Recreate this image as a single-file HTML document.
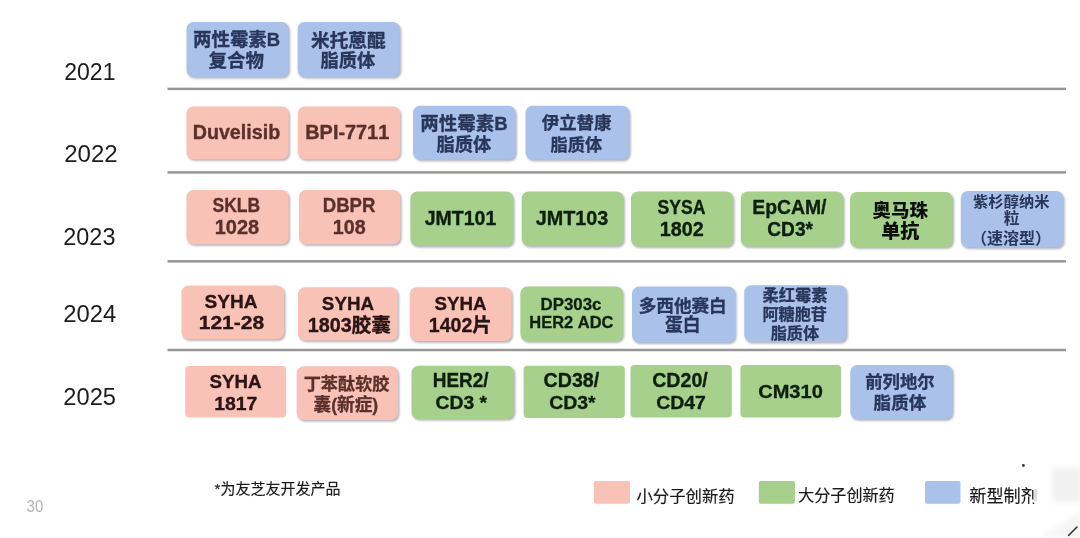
<!DOCTYPE html>
<html lang="zh"><head><meta charset="utf-8"><title>Pipeline 2021-2025</title>
<style>
html,body{margin:0;padding:0;background:#fff;}
body{width:1080px;height:538px;overflow:hidden;font-family:"Liberation Sans","Noto Sans CJK SC",sans-serif;}
svg{display:block;}
text{font-family:"Liberation Sans","Noto Sans CJK SC",sans-serif;font-kerning:none;white-space:pre;}
text.b{font-weight:700;}
text.n{font-weight:400;}
</style></head><body>
<svg width="1080" height="538" viewBox="0 0 1080 538" style="filter:blur(0.45px)">
<defs><filter id="sh" x="-10%" y="-10%" width="120%" height="130%"><feGaussianBlur stdDeviation="0.9"/></filter><filter id="wm" x="-30%" y="-30%" width="160%" height="160%"><feGaussianBlur stdDeviation="3"/></filter></defs>
<rect x="167.5" y="87.65" width="898.5" height="2.5" fill="#979797"/>
<rect x="167.5" y="171.15" width="898.5" height="2.5" fill="#979797"/>
<rect x="167.5" y="260.05" width="898.5" height="2.5" fill="#979797"/>
<rect x="167.5" y="348.75" width="898.5" height="2.5" fill="#979797"/>
<rect x="187.80" y="23.60" width="102.20" height="54.90" rx="7" fill="#5f6070" fill-opacity=".5" filter="url(#sh)"/>
<rect x="298.90" y="23.60" width="102.30" height="54.90" rx="7" fill="#5f6070" fill-opacity=".5" filter="url(#sh)"/>
<rect x="187.80" y="108.00" width="102.20" height="52.80" rx="7" fill="#5f6070" fill-opacity=".5" filter="url(#sh)"/>
<rect x="299.10" y="108.00" width="102.20" height="52.80" rx="7" fill="#5f6070" fill-opacity=".5" filter="url(#sh)"/>
<rect x="414.30" y="107.40" width="102.50" height="53.90" rx="7" fill="#5f6070" fill-opacity=".5" filter="url(#sh)"/>
<rect x="526.90" y="107.40" width="103.70" height="53.90" rx="7" fill="#5f6070" fill-opacity=".5" filter="url(#sh)"/>
<rect x="187.80" y="191.60" width="102.20" height="54.20" rx="7" fill="#5f6070" fill-opacity=".5" filter="url(#sh)"/>
<rect x="300.30" y="191.60" width="101.20" height="54.20" rx="7" fill="#5f6070" fill-opacity=".5" filter="url(#sh)"/>
<rect x="411.70" y="193.10" width="102.80" height="54.50" rx="7" fill="#5f6070" fill-opacity=".5" filter="url(#sh)"/>
<rect x="523.00" y="193.10" width="101.80" height="54.50" rx="7" fill="#5f6070" fill-opacity=".5" filter="url(#sh)"/>
<rect x="632.30" y="193.10" width="102.20" height="55.00" rx="7" fill="#5f6070" fill-opacity=".5" filter="url(#sh)"/>
<rect x="742.10" y="193.10" width="102.40" height="55.00" rx="7" fill="#5f6070" fill-opacity=".5" filter="url(#sh)"/>
<rect x="851.30" y="193.60" width="102.70" height="55.10" rx="7" fill="#5f6070" fill-opacity=".5" filter="url(#sh)"/>
<rect x="962.10" y="192.60" width="102.50" height="56.50" rx="7" fill="#5f6070" fill-opacity=".5" filter="url(#sh)"/>
<rect x="182.80" y="287.20" width="102.60" height="53.60" rx="7" fill="#5f6070" fill-opacity=".5" filter="url(#sh)"/>
<rect x="299.30" y="288.80" width="99.70" height="53.30" rx="7" fill="#5f6070" fill-opacity=".5" filter="url(#sh)"/>
<rect x="411.10" y="288.80" width="101.90" height="53.90" rx="7" fill="#5f6070" fill-opacity=".5" filter="url(#sh)"/>
<rect x="521.70" y="288.00" width="102.50" height="54.70" rx="7" fill="#5f6070" fill-opacity=".5" filter="url(#sh)"/>
<rect x="633.30" y="288.20" width="103.20" height="55.90" rx="7" fill="#5f6070" fill-opacity=".5" filter="url(#sh)"/>
<rect x="745.60" y="286.80" width="102.20" height="56.70" rx="7" fill="#5f6070" fill-opacity=".5" filter="url(#sh)"/>
<rect x="298.00" y="367.90" width="101.30" height="53.60" rx="7" fill="#5f6070" fill-opacity=".5" filter="url(#sh)"/>
<rect x="412.80" y="367.30" width="102.50" height="53.20" rx="7" fill="#5f6070" fill-opacity=".5" filter="url(#sh)"/>
<rect x="851.60" y="366.60" width="102.20" height="54.10" rx="7" fill="#5f6070" fill-opacity=".5" filter="url(#sh)"/>
<rect x="186.50" y="22.00" width="102.20" height="54.90" rx="7" fill="#aac1ea"/>
<rect x="297.60" y="22.00" width="102.30" height="54.90" rx="7" fill="#aac1ea"/>
<rect x="186.50" y="106.40" width="102.20" height="52.80" rx="7" fill="#f8c2b6"/>
<rect x="297.80" y="106.40" width="102.20" height="52.80" rx="7" fill="#f8c2b6"/>
<rect x="413.00" y="105.80" width="102.50" height="53.90" rx="7" fill="#aac1ea"/>
<rect x="525.60" y="105.80" width="103.70" height="53.90" rx="7" fill="#aac1ea"/>
<rect x="186.50" y="190.00" width="102.20" height="54.20" rx="7" fill="#f8c2b6"/>
<rect x="299.00" y="190.00" width="101.20" height="54.20" rx="7" fill="#f8c2b6"/>
<rect x="410.40" y="191.50" width="102.80" height="54.50" rx="7" fill="#a8d08d"/>
<rect x="521.70" y="191.50" width="101.80" height="54.50" rx="7" fill="#a8d08d"/>
<rect x="631.00" y="191.50" width="102.20" height="55.00" rx="7" fill="#a8d08d"/>
<rect x="740.80" y="191.50" width="102.40" height="55.00" rx="7" fill="#a8d08d"/>
<rect x="850.00" y="192.00" width="102.70" height="55.10" rx="7" fill="#a8d08d"/>
<rect x="960.80" y="191.00" width="102.50" height="56.50" rx="7" fill="#aac1ea"/>
<rect x="181.50" y="285.60" width="102.60" height="53.60" rx="7" fill="#f8c2b6"/>
<rect x="298.00" y="287.20" width="99.70" height="53.30" rx="7" fill="#f8c2b6"/>
<rect x="409.80" y="287.20" width="101.90" height="53.90" rx="7" fill="#f8c2b6"/>
<rect x="520.40" y="286.40" width="102.50" height="54.70" rx="7" fill="#a8d08d"/>
<rect x="632.00" y="286.60" width="103.20" height="55.90" rx="7" fill="#aac1ea"/>
<rect x="744.30" y="285.20" width="102.20" height="56.70" rx="7" fill="#aac1ea"/>
<rect x="185.20" y="366.00" width="101.00" height="51.50" rx="4" fill="#f8c2b6"/>
<rect x="296.70" y="366.30" width="101.30" height="53.60" rx="7" fill="#f8c2b6"/>
<rect x="411.50" y="365.70" width="102.50" height="53.20" rx="7" fill="#a8d08d"/>
<rect x="523.60" y="365.70" width="101.20" height="52.30" rx="4" fill="#a8d08d"/>
<rect x="630.40" y="365.00" width="101.40" height="52.50" rx="4" fill="#a8d08d"/>
<rect x="740.40" y="365.00" width="100.80" height="52.50" rx="4" fill="#a8d08d"/>
<rect x="850.30" y="365.00" width="102.20" height="54.10" rx="7" fill="#aac1ea"/>
<g role="img" aria-label="两性霉素B" transform="matrix(0.9243 0 0 0.9243 192.95 46.32)" fill="#28365a" stroke="#28365a" stroke-linejoin="round"><text class="b" x="0.00" y="0" font-size="20.00" stroke-width="0.35">两性霉素B</text></g>
<g role="img" aria-label="复合物" transform="matrix(0.9228 0 0 0.9228 208.56 67.25)" fill="#28365a" stroke="#28365a" stroke-linejoin="round"><text class="b" x="0.00" y="0" font-size="20.00" stroke-width="0.35">复合物</text></g>
<g role="img" aria-label="米托蒽醌" transform="matrix(0.9308 0 0 0.9308 311.05 46.66)" fill="#28365a" stroke="#28365a" stroke-linejoin="round"><text class="b" x="0.00" y="0" font-size="20.00" stroke-width="0.35">米托蒽醌</text></g>
<g role="img" aria-label="脂质体" transform="matrix(0.9103 0 0 0.9103 320.60 67.45)" fill="#28365a" stroke="#28365a" stroke-linejoin="round"><text class="b" x="0.00" y="0" font-size="20.00" stroke-width="0.35">脂质体</text></g>
<g role="img" aria-label="Duvelisib" transform="matrix(0.9843 0 0 0.9739 192.68 139.00)" fill="#5b302b" stroke="#5b302b" stroke-linejoin="round"><text class="b" x="0.00" y="0" font-size="20.00" stroke-width="0.35">Duvelisib</text></g>
<g role="img" aria-label="BPI-7711" transform="matrix(0.9940 0 0 0.9739 305.27 139.00)" fill="#5b302b" stroke="#5b302b" stroke-linejoin="round"><text class="b" x="0.00" y="0" font-size="20.00" stroke-width="0.35">BPI-7711</text></g>
<g role="img" aria-label="两性霉素B" transform="matrix(0.9265 0 0 0.9265 420.14 129.64)" fill="#28365a" stroke="#28365a" stroke-linejoin="round"><text class="b" x="0.00" y="0" font-size="20.00" stroke-width="0.35">两性霉素B</text></g>
<g role="img" aria-label="脂质体" transform="matrix(0.9103 0 0 0.9103 436.60 150.95)" fill="#28365a" stroke="#28365a" stroke-linejoin="round"><text class="b" x="0.00" y="0" font-size="20.00" stroke-width="0.35">脂质体</text></g>
<g role="img" aria-label="伊立替康" transform="matrix(0.8714 0 0 0.8714 541.79 129.48)" fill="#28365a" stroke="#28365a" stroke-linejoin="round"><text class="b" x="0.00" y="0" font-size="20.00" stroke-width="0.35">伊立替康</text></g>
<g role="img" aria-label="脂质体" transform="matrix(0.8597 0 0 0.8597 550.62 150.57)" fill="#28365a" stroke="#28365a" stroke-linejoin="round"><text class="b" x="0.00" y="0" font-size="20.00" stroke-width="0.35">脂质体</text></g>
<g role="img" aria-label="SKLB" transform="matrix(0.8761 0 0 0.9884 212.50 212.00)" fill="#5b302b" stroke="#5b302b" stroke-linejoin="round"><text class="b" x="0.00" y="0" font-size="20.00" stroke-width="0.35">SKLB</text></g>
<g role="img" aria-label="1028" transform="matrix(0.9996 0 0 0.9884 214.74 233.60)" fill="#5b302b" stroke="#5b302b" stroke-linejoin="round"><text class="b" x="0.00" y="0" font-size="20.00" stroke-width="0.35">1028</text></g>
<g role="img" aria-label="DBPR" transform="matrix(0.9286 0 0 0.9884 322.76 212.00)" fill="#5b302b" stroke="#5b302b" stroke-linejoin="round"><text class="b" x="0.00" y="0" font-size="20.00" stroke-width="0.35">DBPR</text></g>
<g role="img" aria-label="108" transform="matrix(0.9843 0 0 0.9884 332.76 233.60)" fill="#5b302b" stroke="#5b302b" stroke-linejoin="round"><text class="b" x="0.00" y="0" font-size="20.00" stroke-width="0.35">108</text></g>
<g role="img" aria-label="JMT101" transform="matrix(0.9764 0 0 0.9739 424.70 225.00)" fill="#0d1f0d" stroke="#0d1f0d" stroke-linejoin="round"><text class="b" x="0.00" y="0" font-size="20.00" stroke-width="0.35">JMT101</text></g>
<g role="img" aria-label="JMT103" transform="matrix(0.9897 0 0 0.9739 535.70 225.00)" fill="#0d1f0d" stroke="#0d1f0d" stroke-linejoin="round"><text class="b" x="0.00" y="0" font-size="20.00" stroke-width="0.35">JMT103</text></g>
<g role="img" aria-label="SYSA" transform="matrix(0.8808 0 0 0.9739 657.49 214.40)" fill="#0d1f0d" stroke="#0d1f0d" stroke-linejoin="round"><text class="b" x="0.00" y="0" font-size="20.00" stroke-width="0.35">SYSA</text></g>
<g role="img" aria-label="1802" transform="matrix(0.9898 0 0 0.9739 659.75 236.40)" fill="#0d1f0d" stroke="#0d1f0d" stroke-linejoin="round"><text class="b" x="0.00" y="0" font-size="20.00" stroke-width="0.35">1802</text></g>
<g role="img" aria-label="EpCAM/" transform="matrix(0.9690 0 0 0.9739 752.30 214.40)" fill="#0d1f0d" stroke="#0d1f0d" stroke-linejoin="round"><text class="b" x="0.00" y="0" font-size="20.00" stroke-width="0.35">EpCAM/</text></g>
<g role="img" aria-label="CD3*" transform="matrix(0.9584 0 0 0.9739 767.21 236.40)" fill="#0d1f0d" stroke="#0d1f0d" stroke-linejoin="round"><text class="b" x="0.00" y="0" font-size="20.00" stroke-width="0.35">CD3*</text></g>
<g role="img" aria-label="奥马珠" transform="matrix(0.9231 0 0 0.9231 872.58 216.73)" fill="#0a0f0a"><text class="b" x="0.00" y="0" font-size="20.00" style="font-weight:900">奥马珠</text></g>
<g role="img" aria-label="单抗" transform="matrix(0.9502 0 0 0.9502 881.16 237.75)" fill="#0a0f0a"><text class="b" x="0.00" y="0" font-size="20.00" style="font-weight:900">单抗</text></g>
<g role="img" aria-label="紫杉醇纳米" transform="matrix(0.7643 0 0 0.7643 973.10 206.82)" fill="#28365a"><text class="b" x="0.00" y="0" font-size="20.00">紫杉醇纳米</text></g>
<g role="img" aria-label="粒" transform="matrix(0.7920 0 0 0.7920 1003.68 224.10)" fill="#28365a"><text class="b" x="0.00" y="0" font-size="20.00">粒</text></g>
<g role="img" aria-label="（速溶型）" transform="matrix(0.8002 0 0 0.8002 970.99 243.78)" fill="#28365a"><text class="b" x="0.00" y="0" font-size="20.00">（速溶型）</text></g>
<g role="img" aria-label="SYHA" transform="matrix(0.9548 0 0 0.9448 204.45 308.00)" fill="#2a1414" stroke="#2a1414" stroke-linejoin="round"><text class="b" x="0.00" y="0" font-size="20.00" stroke-width="0.35">SYHA</text></g>
<g role="img" aria-label="121-28" transform="matrix(1.0530 0 0 0.9448 198.67 329.00)" fill="#2a1414" stroke="#2a1414" stroke-linejoin="round"><text class="b" x="0.00" y="0" font-size="20.00" stroke-width="0.35">121-28</text></g>
<g role="img" aria-label="SYHA" transform="matrix(0.9401 0 0 0.9448 321.86 310.00)" fill="#2a1414" stroke="#2a1414" stroke-linejoin="round"><text class="b" x="0.00" y="0" font-size="20.00" stroke-width="0.35">SYHA</text></g>
<g role="img" aria-label="1803胶囊" transform="matrix(0.9860 0 0 0.9860 307.76 331.60)" fill="#2a1414" stroke="#2a1414" stroke-linejoin="round"><text class="b" x="0.00" y="0" font-size="20.00" stroke-width="0.35">1803胶囊</text></g>
<g role="img" aria-label="SYHA" transform="matrix(0.9364 0 0 0.9593 434.46 309.60)" fill="#2a1414" stroke="#2a1414" stroke-linejoin="round"><text class="b" x="0.00" y="0" font-size="20.00" stroke-width="0.35">SYHA</text></g>
<g role="img" aria-label="1402片" transform="matrix(0.9799 0 0 0.9799 428.77 331.60)" fill="#2a1414" stroke="#2a1414" stroke-linejoin="round"><text class="b" x="0.00" y="0" font-size="20.00" stroke-width="0.35">1402片</text></g>
<g role="img" aria-label="DP303c" transform="matrix(0.8443 0 0 0.8430 540.47 309.60)" fill="#0d1f0d" stroke="#0d1f0d" stroke-linejoin="round"><text class="b" x="0.00" y="0" font-size="20.00" stroke-width="0.35">DP303c</text></g>
<g role="img" aria-label="HER2 ADC" transform="matrix(0.8231 0 0 0.8430 529.30 328.00)" fill="#0d1f0d" stroke="#0d1f0d" stroke-linejoin="round"><text class="b" x="0.00" y="0" font-size="20.00" stroke-width="0.35">HER2 ADC</text></g>
<g role="img" aria-label="多西他赛白" transform="matrix(0.8805 0 0 0.8805 638.67 311.79)" fill="#28365a" stroke="#28365a" stroke-linejoin="round"><text class="b" x="0.00" y="0" font-size="20.00" stroke-width="0.35">多西他赛白</text></g>
<g role="img" aria-label="蛋白" transform="matrix(0.8885 0 0 0.8885 664.99 331.28)" fill="#28365a" stroke="#28365a" stroke-linejoin="round"><text class="b" x="0.00" y="0" font-size="20.00" stroke-width="0.35">蛋白</text></g>
<g role="img" aria-label="柔红霉素" transform="matrix(0.8132 0 0 0.8132 762.54 300.73)" fill="#28365a" stroke="#28365a" stroke-linejoin="round"><text class="b" x="0.00" y="0" font-size="20.00" stroke-width="0.35">柔红霉素</text></g>
<g role="img" aria-label="阿糖胞苷" transform="matrix(0.8071 0 0 0.8071 762.45 319.78)" fill="#28365a" stroke="#28365a" stroke-linejoin="round"><text class="b" x="0.00" y="0" font-size="20.00" stroke-width="0.35">阿糖胞苷</text></g>
<g role="img" aria-label="脂质体" transform="matrix(0.8092 0 0 0.8092 770.64 338.58)" fill="#28365a" stroke="#28365a" stroke-linejoin="round"><text class="b" x="0.00" y="0" font-size="20.00" stroke-width="0.35">脂质体</text></g>
<g role="img" aria-label="SYHA" transform="matrix(0.9364 0 0 0.9593 209.46 387.60)" fill="#2a1414" stroke="#2a1414" stroke-linejoin="round"><text class="b" x="0.00" y="0" font-size="20.00" stroke-width="0.35">SYHA</text></g>
<g role="img" aria-label="1817" transform="matrix(0.9728 0 0 0.9593 214.17 409.60)" fill="#2a1414" stroke="#2a1414" stroke-linejoin="round"><text class="b" x="0.00" y="0" font-size="20.00" stroke-width="0.35">1817</text></g>
<g role="img" aria-label="丁苯酞软胶" transform="matrix(0.8582 0 0 0.8582 303.67 390.17)" fill="#5b302b" stroke="#5b302b" stroke-linejoin="round"><text class="b" x="0.00" y="0" font-size="20.00" stroke-width="0.35">丁苯酞软胶</text></g>
<g role="img" aria-label="囊(新症)" transform="matrix(0.8832 0 0 0.8832 313.52 411.22)" fill="#5b302b" stroke="#5b302b" stroke-linejoin="round"><text class="b" x="0.00" y="0" font-size="20.00" stroke-width="0.35">囊(新症)</text></g>
<g role="img" aria-label="HER2/" transform="matrix(0.9482 0 0 0.9739 432.73 387.00)" fill="#0d1f0d" stroke="#0d1f0d" stroke-linejoin="round"><text class="b" x="0.00" y="0" font-size="20.00" stroke-width="0.35">HER2/</text></g>
<g role="img" aria-label="CD3 *" transform="matrix(0.9636 0 0 0.9448 435.61 409.00)" fill="#0d1f0d" stroke="#0d1f0d" stroke-linejoin="round"><text class="b" x="0.00" y="0" font-size="20.00" stroke-width="0.35">CD3 *</text></g>
<g role="img" aria-label="CD38/" transform="matrix(0.9807 0 0 0.9739 543.60 387.00)" fill="#0d1f0d" stroke="#0d1f0d" stroke-linejoin="round"><text class="b" x="0.00" y="0" font-size="20.00" stroke-width="0.35">CD38/</text></g>
<g role="img" aria-label="CD3*" transform="matrix(0.9712 0 0 0.9448 549.20 409.00)" fill="#0d1f0d" stroke="#0d1f0d" stroke-linejoin="round"><text class="b" x="0.00" y="0" font-size="20.00" stroke-width="0.35">CD3*</text></g>
<g role="img" aria-label="CD20/" transform="matrix(0.9807 0 0 0.9739 652.20 387.00)" fill="#0d1f0d" stroke="#0d1f0d" stroke-linejoin="round"><text class="b" x="0.00" y="0" font-size="20.00" stroke-width="0.35">CD20/</text></g>
<g role="img" aria-label="CD47" transform="matrix(0.9710 0 0 0.9448 656.20 409.00)" fill="#0d1f0d" stroke="#0d1f0d" stroke-linejoin="round"><text class="b" x="0.00" y="0" font-size="20.00" stroke-width="0.35">CD47</text></g>
<g role="img" aria-label="CM310" transform="matrix(1.0027 0 0 0.9448 758.18 398.00)" fill="#0d1f0d" stroke="#0d1f0d" stroke-linejoin="round"><text class="b" x="0.00" y="0" font-size="20.00" stroke-width="0.35">CM310</text></g>
<g role="img" aria-label="前列地尔" transform="matrix(0.8671 0 0 0.8671 865.22 388.15)" fill="#28365a" stroke="#28365a" stroke-linejoin="round"><text class="b" x="0.00" y="0" font-size="20.00" stroke-width="0.35">前列地尔</text></g>
<g role="img" aria-label="脂质体" transform="matrix(0.8766 0 0 0.8766 873.61 408.90)" fill="#28365a" stroke="#28365a" stroke-linejoin="round"><text class="b" x="0.00" y="0" font-size="20.00" stroke-width="0.35">脂质体</text></g>
<g role="img" aria-label="2021" transform="matrix(1.1527 0 0 1.1919 64.24 79.70)" fill="#1c1c1c"><text class="n" x="0.00" y="0" font-size="20.00">2021</text></g>
<g role="img" aria-label="2022" transform="matrix(1.2029 0 0 1.1919 64.19 161.90)" fill="#1c1c1c"><text class="n" x="0.00" y="0" font-size="20.00">2022</text></g>
<g role="img" aria-label="2023" transform="matrix(1.1712 0 0 1.2064 63.32 244.80)" fill="#1c1c1c"><text class="n" x="0.00" y="0" font-size="20.00">2023</text></g>
<g role="img" aria-label="2024" transform="matrix(1.1935 0 0 1.1846 63.30 322.10)" fill="#1c1c1c"><text class="n" x="0.00" y="0" font-size="20.00">2024</text></g>
<g role="img" aria-label="2025" transform="matrix(1.1842 0 0 1.1846 63.31 404.70)" fill="#1c1c1c"><text class="n" x="0.00" y="0" font-size="20.00">2025</text></g>
<g role="img" aria-label="30" transform="matrix(0.7535 0 0 0.8140 26.53 511.60)" fill="#b4b4b4"><text class="n" x="0.00" y="0" font-size="20.00">30</text></g>
<g role="img" aria-label="*为友芝友开发产品" transform="matrix(0.7502 0 0 0.7502 214.56 494.08)" fill="#1a1a1a" stroke="#1a1a1a" stroke-linejoin="round"><text class="n" x="0.00" y="0" font-size="20.00" stroke-width="0.20">*为友芝友开发产品</text></g>
<rect x="593.80" y="481" width="36.20" height="22.8" rx="2" fill="#f8c2b6"/>
<rect x="758.80" y="481" width="36.20" height="22.8" rx="2" fill="#a8d08d"/>
<rect x="925.00" y="481" width="35.50" height="22.8" rx="2" fill="#aac1ea"/>
<g role="img" aria-label="小分子创新药" transform="matrix(0.8191 0 0 0.8191 636.48 501.53)" fill="#1a1a1a" stroke="#1a1a1a" stroke-linejoin="round"><text class="n" x="0.00" y="0" font-size="20.00" stroke-width="0.20">小分子创新药</text></g>
<g role="img" aria-label="大分子创新药" transform="matrix(0.8054 0 0 0.8054 798.11 501.43)" fill="#1a1a1a" stroke="#1a1a1a" stroke-linejoin="round"><text class="n" x="0.00" y="0" font-size="20.00" stroke-width="0.20">大分子创新药</text></g>
<g role="img" aria-label="新型制剂" transform="matrix(0.8576 0 0 0.8576 969.30 502.06)" fill="#1a1a1a" stroke="#1a1a1a" stroke-linejoin="round"><text class="n" x="0.00" y="0" font-size="20.00" stroke-width="0.20">新型制剂</text></g>
<rect x="1034.2" y="484" width="46" height="24" fill="#fff"/>
<rect x="1034.2" y="489" width="3" height="12" fill="#ddd"/>
<rect x="1052" y="468" width="30" height="34" fill="#f1f1f1" filter="url(#wm)"/>
<path d="M1040 538 L1080 512 L1080 538 Z" fill="#f4f4f4" filter="url(#wm)"/>
<circle cx="1023.4" cy="465.5" r="1.4" fill="#333"/>
<path d="M1068.5 535.5 L1077 527" stroke="#333" stroke-width="1.6" stroke-linecap="round"/>
</svg>
</body></html>
